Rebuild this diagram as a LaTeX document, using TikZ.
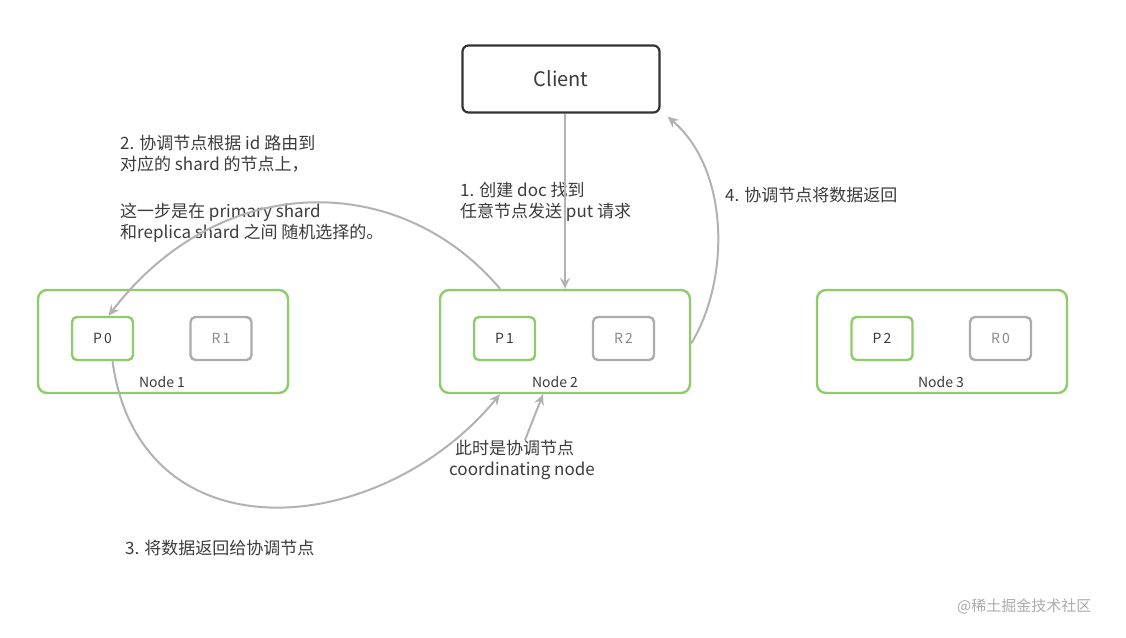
\documentclass[tikz,border=0pt]{standalone}
\usepackage{fontspec}
\setmainfont{Noto Sans CJK SC}
\usetikzlibrary{arrows.meta}
\definecolor{nodegreen}{RGB}{141,204,104}
\definecolor{shardgray}{RGB}{172,172,172}
\definecolor{arrowgray}{RGB}{178,178,178}
\definecolor{textgray}{RGB}{60,60,60}
\tikzset{
  nodebox/.style={draw=nodegreen,line width=2.4pt,rounded corners=9pt,minimum width=250pt,minimum height=103pt},
  primary/.style={draw=nodegreen,line width=2.4pt,rounded corners=5pt,minimum width=61pt,minimum height=43pt,font=\fontsize{14}{16}\selectfont,text=textgray},
  replica/.style={draw=shardgray,line width=2.4pt,rounded corners=5pt,minimum width=61pt,minimum height=43pt,font=\fontsize{14}{16}\selectfont,text=shardgray!80!black},
  nodelbl/.style={font=\fontsize{14}{16}\selectfont,text=textgray},
  note/.style={anchor=west,align=left,font=\fontsize{17}{21}\selectfont,text=textgray,inner sep=0pt},
  flow/.style={draw=arrowgray,line width=2pt,-{Stealth[length=11pt,width=10pt,inset=4pt]}}
}
\begin{document}
\begin{tikzpicture}[x=1pt,y=-1pt]
\useasboundingbox[fill=white] (0,0) rectangle (1126,637);
% client
\node[draw=black!80,line width=2.2pt,rounded corners=6pt,minimum width=197pt,minimum height=67pt,font=\fontsize{20}{24}\selectfont,text=textgray] (client) at (561,79) {Client};
% the three nodes
\node[nodebox] (n1) at (163,341.5) {};
\node[nodebox] (n2) at (565,341.5) {};
\node[nodebox] (n3) at (942,341.5) {};
\node[primary] (p0) at (102.5,338.5) {P\,0};
\node[replica] (r1) at (221,338.5) {R\,1};
\node[primary] (p1) at (504.5,338.5) {P\,1};
\node[replica] (r2) at (623.5,338.5) {R\,2};
\node[primary] (p2) at (882,338.5) {P\,2};
\node[replica] (r0) at (1000.5,338.5) {R\,0};
\node[nodelbl] (l1) at (162,382) {Node 1};
\node[nodelbl] (l2) at (555,382) {Node 2};
\node[nodelbl] (l3) at (941,382) {Node 3};
% notes
\node[note] (t1) at (460,201.5) {1. 创建 doc 找到\\任意节点发送 put 请求};
\node[note] (t2) at (120,189) {2. 协调节点根据 id 路由到\\对应的 shard 的节点上，\\[26pt]这一步是在 primary shard\\和replica shard 之间 随机选择的。};
\node[note] (t3) at (125,548) {3. 将数据返回给协调节点};
\node[note] (t4) at (725,195) {4. 协调节点将数据返回};
\node[note] (tc) at (449,460) {\hspace{6pt}此时是协调节点\\coordinating node};
\node[note,text=shardgray,font=\fontsize{15}{18}\selectfont] (mark) at (957,606) {@稀土掘金技术社区};
% arrows
\draw[flow] ([xshift=4pt]client.south) -- ([xshift=4pt]client.south |- n2.north);
\draw[flow] ([xshift=-65pt]n2.north) .. controls (400,170) and (220,170) .. ([xshift=6pt]p0.north);
\draw[flow] ([xshift=10pt]p0.south) .. controls (140,560) and (380,540) .. ([xshift=-65pt]n2.south);
\draw[flow] (tc.north -| 525,0) -- ([xshift=-22pt]n2.south);
\draw[flow] ([yshift=-2pt]n2.east) .. controls (730,280) and (730,170) .. ([xshift=7pt,yshift=-3pt]client.south east);
\end{tikzpicture}
\end{document}
